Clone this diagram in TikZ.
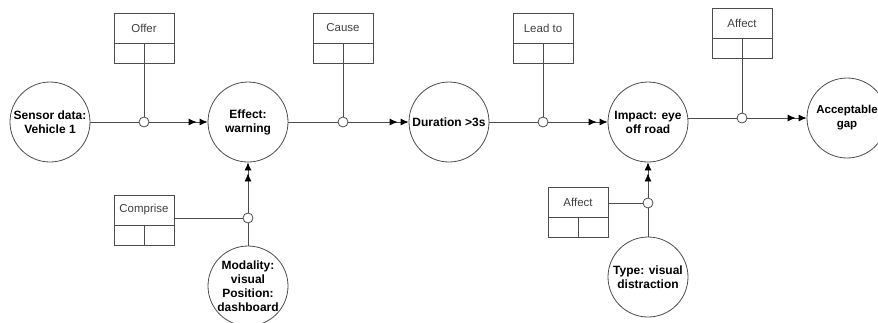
\documentclass[tikz,border=0pt]{standalone}
\usepackage{fontspec}
\setmainfont{Liberation Sans}
\usepackage{tikz}
\usetikzlibrary{arrows.meta}
\tikzset{concept/.style={draw,circle,minimum size=80pt,inner sep=0pt,
                         align=center,font=\fontsize{12}{14}\selectfont\bfseries}}
\tikzset{joint/.style={draw,circle,fill=white,minimum size=10pt,inner sep=0pt}}
\def\boxwd{60pt}

\begin{document}
\begin{tikzpicture}[x=1pt,y=-1pt,line width=0.8pt,draw=black!70]
    \tikzstyle{relation}=[draw,minimum width=\boxwd,minimum height=30pt,inner sep=0pt,
                          font=\fontsize{11.5}{13}\selectfont,text=black!75]
    \tikzstyle{cell}=[draw,minimum width=0.5*\boxwd,minimum height=20pt,inner sep=0pt,anchor=north west]
    \tikzstyle{link}=[-{Latex[length=8pt,width=7pt,sep=3pt,color=black]Latex[length=8pt,width=7pt,color=black]}]
    \useasboundingbox (0,0) rectangle (878,322);

    % Concepts
    \node[concept] (sensor)   at (50,122)  {Sensor data:\\Vehicle 1};
    \node[concept] (effect)   at (248,122) {Effect:\\warning};
    \node[concept] (duration) at (449,122) {Duration >3s};
    \node[concept] (impact)   at (648,122) {Impact: eye\\off road};
    \node[concept,font=\fontsize{11.5}{14}\selectfont\bfseries] (gap) at (847,118) {Acceptable\\gap};
    \node[concept] (modality) at (248,286) {Modality:\\visual\\Position:\\dashboard};
    \node[concept] (type)     at (648,277) {Type: visual\\distraction};

    % Relations
    \foreach \nm/\txt/\x/\y in {offer/Offer/144/28, cause/Cause/343/28, leadto/Lead to/543/28,
                                affecttop/Affect/742/23, comprise/Comprise/144/210, affectlow/Affect/578/202}{%
          \node[relation] (\nm) at (\x,\y) {\txt};
          \node[cell] (\nm l) at (\nm.south west) {};
          \node[cell] (\nm r) at (\nm.south) {};
		}

    % Junctions
    \foreach \nm/\x/\y in {j1/144/122, j2/343/122, j3/543/122, j4/742/118, jc/248/218, ja/648/203}
          \node[joint] (\nm) at (\x,\y) {};

    \draw (sensor) -- (j1);
    \draw[link] (j1) -- (effect);
    \draw (offer.south) -- (j1);

    \draw (effect) -- (j2);
    \draw[link] (j2) -- (duration);
    \draw (cause.south) -- (j2);

    \draw (duration) -- (j3);
    \draw[link] (j3) -- (impact);
    \draw (leadto.south) -- (j3);

    \draw (impact.east |- j4) -- (j4);
    \draw[link] (j4) -- (gap);
    \draw (affecttop.south) -- (j4);

    \draw (modality) -- (jc);
    \draw[link] (jc) -- (effect);
    \draw (comprise.east |- jc) -- (jc);

    \draw (type) -- (ja);
    \draw[link] (ja) -- (impact);
    \draw (affectlow.east |- ja) -- (ja);
\end{tikzpicture}
\end{document}
